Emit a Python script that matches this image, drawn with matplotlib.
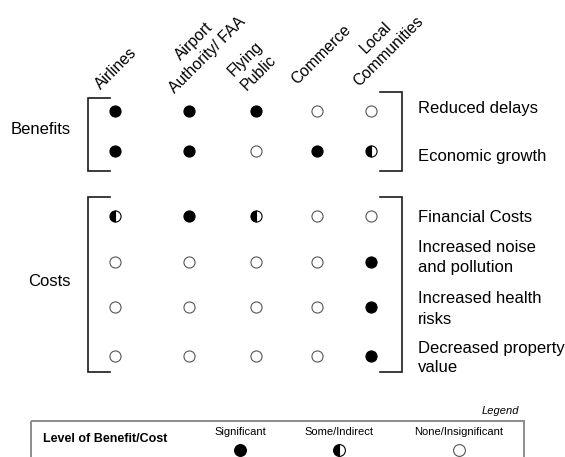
import matplotlib
matplotlib.use("Agg")
import matplotlib.pyplot as plt
from matplotlib.patches import Rectangle

plt.rcParams['font.family'] = ['Liberation Sans', 'DejaVu Sans']

# ---- data ----
stakeholders = ["Airlines", "Airport\nAuthority/ FAA", "Flying\nPublic", "Commerce", "Local\nCommunities"]
benefit_items = ["Reduced delays", "Economic growth"]
cost_items = ["Financial Costs", "Increased noise\nand pollution", "Increased health\nrisks", "Decreased property\nvalue"]
# 2 = Significant, 1 = Some/Indirect, 0 = None/Insignificant
benefit_levels = [
    [2, 2, 2, 0, 0],
    [2, 2, 0, 2, 1],
]
cost_levels = [
    [1, 2, 1, 0, 0],
    [0, 0, 0, 0, 2],
    [0, 0, 0, 0, 2],
    [0, 0, 0, 0, 2],
]
level_names = ["Significant", "Some/Indirect", "None/Insignificant"]
level_codes = [2, 1, 0]
group_names = ["Benefits", "Costs"]

# ---- layout ----
W, H = 565, 457
fig = plt.figure(figsize=(W / 100, H / 100), dpi=100)
ax = fig.add_axes([0, 0, 1, 1])
ax.set_xlim(0, W)
ax.set_ylim(H, 0)
ax.axis('off')

col_x = [114.5, 189, 256, 317, 371]
row_y = [110.5, 150.8, 216, 261.7, 306.7, 355.7]
header_anchor = [(101, 90), (172, 91), (244, 88), (297, 85), (357, 84)]
label_x = 417.5
label_baselines = [[113.5], [160.5], [221.5], [252, 272], [303, 323.5], [352.5, 372.5]]


def draw_marker(x, y, level, ms=8):
    if level == 2:
        ax.plot(x, y, 'o', ms=ms, mfc='black', mec='black', mew=0.8)
    elif level == 1:
        ax.plot(x, y, 'o', ms=ms, fillstyle='left', mfc='black',
                mfcalt='white', mec='black', mew=0.8)
    else:
        ax.plot(x, y, 'o', ms=ms, mfc='white', mec='#555555', mew=0.8)


# headers
for name, (hx, hy) in zip(stakeholders, header_anchor):
    ax.text(hx, hy, name, rotation=45, rotation_mode='anchor', ha='left',
            va='baseline', multialignment='center', fontsize=11.3,
            linespacing=1.3)

# grid of markers
all_levels = benefit_levels + cost_levels
for r, levels in enumerate(all_levels):
    for c, lv in enumerate(levels):
        draw_marker(col_x[c], row_y[r], lv)

# right labels
all_items = benefit_items + cost_items
for item, bases in zip(all_items, label_baselines):
    for line, b in zip(item.split("\n"), bases):
        ax.text(label_x, b, line, ha='left', va='baseline', fontsize=12)

# brackets
lc = '#1a1a1a'
lw = 1.2
# left
for (top, bot) in [(97.5, 171), (197, 371.7)]:
    ax.plot([110, 88, 88, 110], [top, top, bot, bot], color=lc, lw=lw,
            solid_joinstyle='miter')
# right
for (top, bot) in [(92, 171), (197.3, 371.7)]:
    ax.plot([380, 401.7, 401.7, 380], [top, top, bot, bot], color=lc, lw=lw,
            solid_joinstyle='miter')

# group labels
ax.text(71, 134.5, group_names[0], ha='right', va='baseline', fontsize=12)
ax.text(71, 286.5, group_names[1], ha='right', va='baseline', fontsize=12)

# legend
ax.text(519, 414, "Legend", ha='right', va='baseline', fontsize=8, style='italic')
ax.add_patch(Rectangle((31, 421), 524 - 31, 60, fill=False, ec='#8c8c8c', lw=1.4))
ax.text(43, 441.5, "Level of Benefit/Cost", ha='left', va='baseline',
        fontsize=9, fontweight='bold')
leg_x = [240.4, 338.7, 459]
for name, code, lx in zip(level_names, level_codes, leg_x):
    ax.text(lx, 435, name, ha='center', va='baseline', fontsize=8)
    draw_marker(lx, 449.5, code, ms=8.5)

fig.savefig("out.png", dpi=100)
